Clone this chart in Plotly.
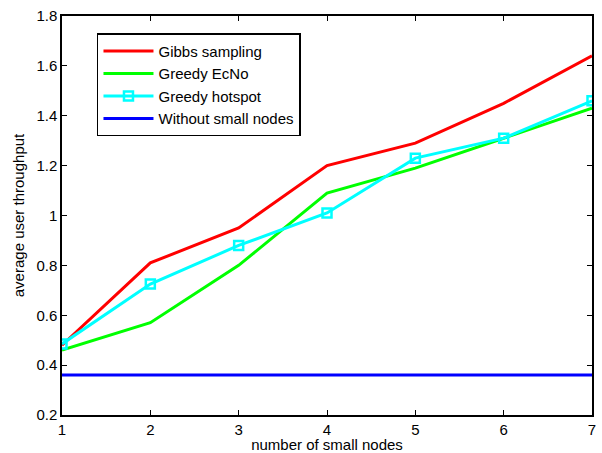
import plotly.graph_objects as go

x_nodes = [1, 2, 3, 4, 5, 6, 7]
gibbs = [0.48, 0.81, 0.95, 1.20, 1.29, 1.45, 1.64]
greedy_ecno = [0.46, 0.57, 0.80, 1.09, 1.19, 1.31, 1.43]
greedy_hotspot = [0.485, 0.725, 0.88, 1.01, 1.23, 1.31, 1.46]
without_small = [0.36, 0.36, 0.36, 0.36, 0.36, 0.36, 0.36]

x_ticks = [1, 2, 3, 4, 5, 6, 7]
y_ticks = [0.2, 0.4, 0.6, 0.8, 1.0, 1.2, 1.4, 1.6, 1.8]
y_tick_text = ["0.2", "0.4", "0.6", "0.8", "1", "1.2", "1.4", "1.6", "1.8"]

fig = go.Figure()
fig.add_trace(go.Scatter(x=x_nodes, y=gibbs, mode="lines", name="Gibbs sampling",
                         line=dict(color="#FF0000", width=3)))
fig.add_trace(go.Scatter(x=x_nodes, y=greedy_ecno, mode="lines", name="Greedy EcNo",
                         line=dict(color="#00FF00", width=3)))
fig.add_trace(go.Scatter(x=x_nodes, y=greedy_hotspot, mode="lines+markers", name="Greedy hotspot",
                         line=dict(color="#00FFFF", width=3),
                         marker=dict(symbol="square-open", size=9, color="#00FFFF",
                                     line=dict(width=2.5, color="#00FFFF"))))
fig.add_trace(go.Scatter(x=x_nodes, y=without_small, mode="lines", name="Without small nodes",
                         line=dict(color="#0000FF", width=3)))

axis_common = dict(showgrid=False, zeroline=False, showline=True, linecolor="black",
                   linewidth=1.5, mirror="ticks", ticks="inside", ticklen=5,
                   tickcolor="black", automargin=False,
                   tickfont=dict(family="Liberation Sans, Arial", size=15, color="black"))

fig.update_layout(
    width=602, height=453,
    paper_bgcolor="white", plot_bgcolor="white",
    margin=dict(l=62, r=10, t=16, b=38),
    font=dict(family="Liberation Sans, Arial", size=15, color="black"),
    showlegend=True,
    legend=dict(x=0.066, y=0.957, xanchor="left", yanchor="top",
                bordercolor="black", borderwidth=1.5, bgcolor="white",
                font=dict(size=15), tracegroupgap=0, itemwidth=50),
    xaxis=dict(range=[1, 7], tickvals=x_ticks,
               title=dict(text="number of small nodes", font=dict(size=15), standoff=5),
               **axis_common),
    yaxis=dict(range=[0.2, 1.8], tickvals=y_ticks, ticktext=y_tick_text,
               title=dict(text="average user throughput", font=dict(size=15), standoff=8),
               **axis_common),
)

fig.write_html("out.html", config={"displayModeBar": False},
               post_script="document.body.style.margin='0px';")
